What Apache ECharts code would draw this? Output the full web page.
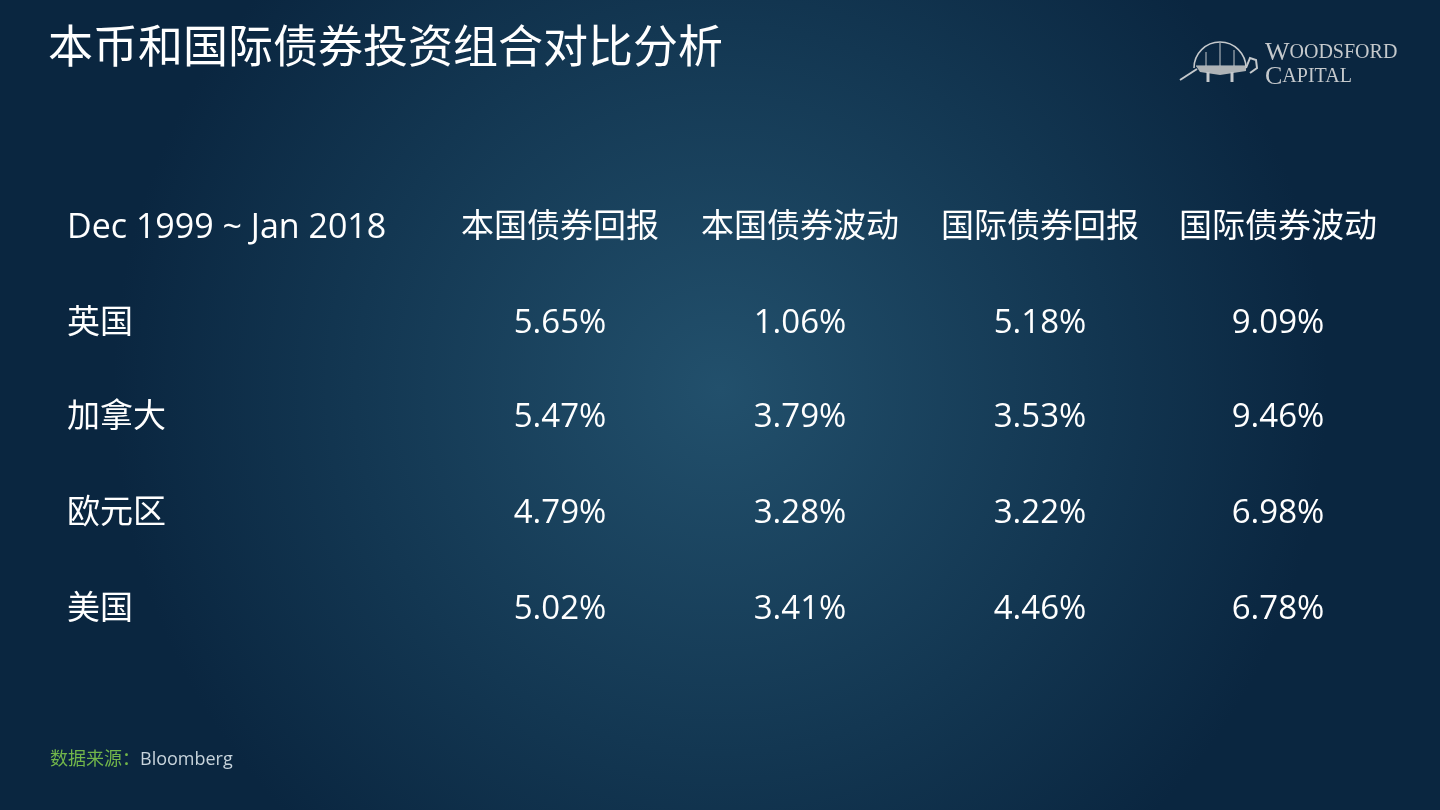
<!DOCTYPE html>
<html><head><meta charset="utf-8">
<script src="https://cdn.jsdelivr.net/npm/echarts@6/dist/echarts.min.js"></script>
<style>html,body{margin:0;padding:0;}#c{width:1440px;height:810px;}</style>
</head><body><div id="c"></div>
<script>
const title = '本币和国际债券投资组合对比分析';
const periodLabel = 'Dec 1999 ~ Jan 2018';
const columns = ['本国债券回报','本国债券波动','国际债券回报','国际债券波动'];
const regions = ['英国','加拿大','欧元区','美国'];
const domesticReturn = ['5.65%','5.47%','4.79%','5.02%'];
const domesticVol = ['1.06%','3.79%','3.28%','3.41%'];
const intlReturn = ['5.18%','3.53%','3.22%','4.46%'];
const intlVol = ['9.09%','9.46%','6.98%','6.78%'];
const sourceLabel = '数据来源：';
const sourceName = 'Bloomberg';

const font = '"Open Sans","Noto Sans CJK SC",sans-serif';
const colX = [560, 800, 1040, 1278];
const rowY = [228, 324, 418, 514, 610];
const els = [];
els.push({type:'rect', z:0, shape:{x:0,y:0,width:1440,height:810},
  style:{fill:{type:'radial',x:0.5,y:0.48,r:0.75,colorStops:[{offset:0,color:'#22506c'},{offset:0.6,color:'#133752'},{offset:1,color:'#0a2640'}]}}});
els.push({type:'text', x:48, y:50, style:{text:title, fill:'#ffffff', font:'45px '+font, textVerticalAlign:'middle'}});
els.push({type:'text', x:67, y:rowY[0], style:{text:periodLabel, fill:'#ffffff', font:'34px '+font, textVerticalAlign:'middle'}});
columns.forEach((c,i)=>els.push({type:'text', x:colX[i], y:rowY[0], style:{text:c, fill:'#ffffff', font:'33px '+font, textAlign:'center', textVerticalAlign:'middle'}}));
const cols = [domesticReturn, domesticVol, intlReturn, intlVol];
regions.forEach((r,j)=>{
  els.push({type:'text', x:67, y:rowY[j+1], style:{text:r, fill:'#ffffff', font:'33px '+font, textVerticalAlign:'middle'}});
  cols.forEach((arr,i)=>els.push({type:'text', x:colX[i], y:rowY[j+1], style:{text:arr[j], fill:'#ffffff', font:'33px '+font, textAlign:'center', textVerticalAlign:'middle'}}));
});
els.push({type:'text', x:50, y:760, style:{text:'{a|'+sourceLabel+'}{b|'+sourceName+'}', textVerticalAlign:'middle',
  rich:{a:{fill:'#72b64a', font:'18px '+font}, b:{fill:'#c8d4dc', font:'18px '+font}}}});
// logo
const lg = '#c5c9cc';
const serif = '"Liberation Serif",serif';
els.push({type:'text', x:1265, y:53, style:{text:'{a|W}{b|OODSFORD}', textVerticalAlign:'middle', rich:{a:{fill:lg,font:'26px '+serif},b:{fill:lg,font:'20px '+serif}}}});
els.push({type:'text', x:1265, y:77, style:{text:'{a|C}{b|APITAL}', textVerticalAlign:'middle', rich:{a:{fill:lg,font:'26px '+serif},b:{fill:lg,font:'20px '+serif}}}});
els.push({type:'arc', shape:{cx:1220, cy:68, r:26, startAngle:Math.PI, endAngle:2*Math.PI}, style:{fill:'none', stroke:lg, lineWidth:1.5}});
els.push({type:'polyline', shape:{points:[[1196,66],[1246,66]]}, style:{stroke:lg, lineWidth:1}});
[[1206,52],[1220,43],[1234,50]].forEach(p=>els.push({type:'line', shape:{x1:p[0],y1:p[1],x2:p[0],y2:66}, style:{stroke:lg, lineWidth:1}}));
els.push({type:'polygon', shape:{points:[[1196,66],[1246,66],[1246,71],[1220,75],[1200,72]]}, style:{fill:'#aeb3b6'}});
els.push({type:'polyline', shape:{points:[[1246,68],[1250,58],[1256,60],[1257,68],[1250,73]]}, style:{fill:'none', stroke:lg, lineWidth:2}});
els.push({type:'polyline', shape:{points:[[1180,80],[1197,69]]}, style:{stroke:lg, lineWidth:2}});
els.push({type:'line', shape:{x1:1208,y1:72,x2:1208,y2:82}, style:{stroke:lg, lineWidth:3}});
els.push({type:'line', shape:{x1:1232,y1:72,x2:1232,y2:82}, style:{stroke:lg, lineWidth:3}});
const chart = echarts.init(document.getElementById('c'));
chart.setOption({graphic:{elements:els}});
</script></body></html>
